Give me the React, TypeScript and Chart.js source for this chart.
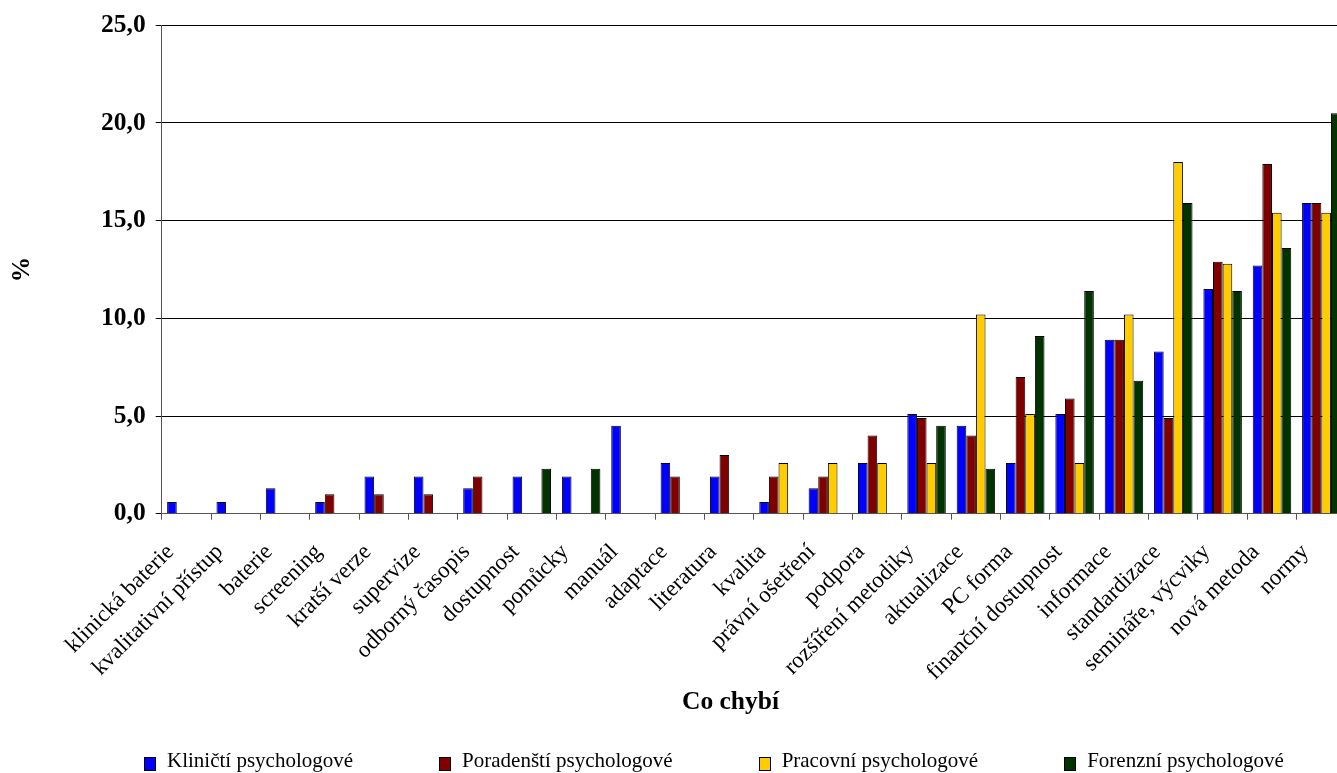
import React, { useEffect, useRef } from "react";
import { Chart, registerables } from "chart.js";

Chart.register(...registerables);

const categories = [
  "klinická baterie",
  "kvalitativní přístup",
  "baterie",
  "screening",
  "kratší verze",
  "supervize",
  "odborný časopis",
  "dostupnost",
  "pomůcky",
  "manuál",
  "adaptace",
  "literatura",
  "kvalita",
  "právní ošetření",
  "podpora",
  "rozšíření metodiky",
  "aktualizace",
  "PC forma",
  "finanční dostupnost",
  "informace",
  "standardizace",
  "semináře, výcviky",
  "nová metoda",
  "normy",
];

const klinicti = [0.6, 0.6, 1.3, 0.6, 1.9, 1.9, 1.3, 1.9, 1.9, 4.5, 2.6, 1.9, 0.6, 1.3, 2.6, 5.1, 4.5, 2.6, 5.1, 8.9, 8.3, 11.5, 12.7, 15.9];
const poradensti = [null, null, null, 1.0, 1.0, 1.0, 1.9, null, null, null, 1.9, 3.0, 1.9, 1.9, 4.0, 4.9, 4.0, 7.0, 5.9, 8.9, 4.9, 12.9, 17.9, 15.9];
const pracovni = [null, null, null, null, null, null, null, null, null, null, null, null, 2.6, 2.6, 2.6, 2.6, 10.2, 5.1, 2.6, 10.2, 18.0, 12.8, 15.4, 15.4];
const forenzni = [null, null, null, null, null, null, null, 2.3, 2.3, null, null, null, null, null, null, 4.5, 2.3, 9.1, 11.4, 6.8, 15.9, 11.4, 13.6, 20.5];

const seriesNames = [
  "Kliničtí psychologové",
  "Poradenští psychologové",
  "Pracovní psychologové",
  "Forenzní psychologové",
];
const seriesColors = ["#0000FF", "#800000", "#FFCC00", "#003300"];

const yTicks = [0, 5, 10, 15, 20, 25];
const xTitle = "Co chybí";
const yTitle = "%";

const FONT = '"Liberation Serif", "Times New Roman", serif';

const xTitlePlugin = {
  id: "xTitlePlugin",
  afterDraw(chart: any) {
    const ctx = chart.ctx;
    ctx.save();
    ctx.font = `bold 25.5px ${FONT}`;
    ctx.fillStyle = "#000000";
    ctx.textAlign = "center";
    ctx.textBaseline = "middle";
    ctx.fillText(xTitle, 730.5, 702);
    ctx.restore();
  },
};

export default function App() {
  const ref = useRef<HTMLCanvasElement>(null);

  useEffect(() => {
    if (!ref.current) return;
    const allData = [klinicti, poradensti, pracovni, forenzni];
    const chart = new Chart(ref.current, {
      type: "bar",
      data: {
        labels: categories,
        datasets: allData.map((d, i) => ({
          label: seriesNames[i],
          data: d as any,
          backgroundColor: seriesColors[i],
          borderColor: "#000000",
          borderWidth: 1,
          categoryPercentage: 0.78,
          barPercentage: 1,
        })),
      },
      plugins: [xTitlePlugin],
      options: {
        animation: false,
        responsive: false,
        maintainAspectRatio: false,
        layout: { padding: { top: 25, left: 0, right: 0, bottom: 54 } },
        plugins: {
          legend: { display: false },
          tooltip: { enabled: false },
        },
        scales: {
          x: {
            grid: {
              display: true,
              drawOnChartArea: false,
              drawTicks: true,
              tickLength: 6,
              color: "#555555",
              offset: true,
            },
            border: { color: "#555555", width: 1 },
            ticks: {
              autoSkip: false,
              minRotation: 45,
              maxRotation: 45,
              color: "#000000",
              font: { family: FONT, size: 23 },
              padding: 19,
              labelOffset: -16,
            },
            title: { display: false },
            afterFit: (s: any) => {
              s.height = 205.3;
              s.paddingLeft = 0;
              s.paddingRight = 0;
            },
          },
          y: {
            min: 0,
            max: 25,
            afterBuildTicks: (s: any) => {
              s.ticks = yTicks.map((v) => ({ value: v }));
            },
            ticks: {
              color: "#000000",
              font: { family: FONT, size: 25.5, weight: "bold" },
              padding: 10,
              callback: (v: any) => Number(v).toFixed(1).replace(".", ","),
            },
            grid: { color: "#000000", tickLength: 6, lineWidth: 1 },
            border: { color: "#555555", width: 1 },
            title: {
              display: true,
              text: yTitle,
              color: "#000000",
              font: { family: FONT, size: 25.5, weight: "bold" },
              padding: { top: 7, bottom: 0 },
            },
            afterFit: (s: any) => {
              s.width = 161.7;
            },
          },
        },
      },
    });
    return () => chart.destroy();
  }, []);

  return (
    <div
      style={{
        position: "absolute",
        left: 0,
        top: 0,
        width: 1337,
        height: 773,
        overflow: "hidden",
        background: "#ffffff",
      }}
    >
      <canvas ref={ref} width={1346} height={773} style={{ display: "block", width: 1346, height: 773 }} />
      <div
        style={{
          position: "absolute",
          left: 144,
          top: 748,
          display: "flex",
          alignItems: "center",
          gap: 86,
          fontFamily: FONT,
          fontSize: 21,
          color: "#000",
          whiteSpace: "nowrap",
          lineHeight: "24px",
        }}
      >
        {seriesNames.map((n, i) => (
          <div key={n} style={{ display: "flex", alignItems: "center" }}>
            <span
              style={{
                display: "inline-block",
                width: 10,
                height: 12,
                background: seriesColors[i],
                border: "1px solid #000",
                marginRight: 11,
                marginTop: 8,
              }}
            />
            <span>{n}</span>
          </div>
        ))}
      </div>
    </div>
  );
}
